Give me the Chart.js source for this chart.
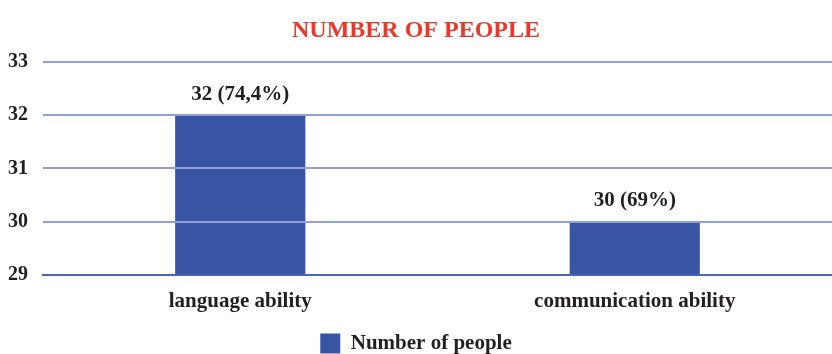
<!DOCTYPE html>
<html>
<head>
<meta charset="utf-8">
<script src="https://cdn.jsdelivr.net/npm/chart.js@4"></script>
<style>
    html, body { margin: 0; padding: 0; background: #fff; height: 354px; overflow: hidden; }
    #wrap { width: 832px; height: 364px; }
</style>
</head>
<body>
<div id="wrap"><canvas id="myChart"></canvas></div>
<script>
// Данные
const categories = ['language ability', 'communication ability'];
const peopleCounts = [32, 30];
const valueLabels = ['32 (74,4%)', '30 (69%)'];
const yTicks = [29, 30, 31, 32, 33];

const serif = '"Liberation Serif", "Times New Roman", serif';
const barColor = '#3a54a4';

// Подписи над столбцами
const barLabels = {
    id: 'barLabels',
    afterDatasetsDraw(chart) {
        const ctx = chart.ctx;
        const meta = chart.getDatasetMeta(0);
        ctx.save();
        ctx.font = 'bold 21px ' + serif;
        ctx.fillStyle = '#231f20';
        ctx.textAlign = 'center';
        ctx.textBaseline = 'middle';
        meta.data.forEach((bar, i) => {
            ctx.fillText(valueLabels[i], bar.x, bar.y - 21);
        });
        ctx.restore();
    }
};

const ctx = document.getElementById('myChart').getContext('2d');
const myChart = new Chart(ctx, {
    type: 'bar',
    data: {
        labels: categories,
        datasets: [{
            label: 'Number of people',
            data: peopleCounts,
            backgroundColor: barColor,
            borderWidth: 0,
            barPercentage: 0.33,
            categoryPercentage: 1
        }]
    },
    options: {
        responsive: true,
        maintainAspectRatio: false,
        animation: false,
        layout: { padding: { left: 0, right: 0, top: 0, bottom: 0 } },
        scales: {
            x: {
                grid: { display: false },
                border: { display: true, color: '#4a66b8', width: 2, z: 2 },
                ticks: {
                    color: '#231f20',
                    font: { family: serif, size: 21, weight: 'bold' },
                    padding: 6
                },
                afterFit(scale) { scale.height = 58; }
            },
            y: {
                min: 29,
                max: 33,
                afterBuildTicks(scale) {
                    scale.ticks = yTicks.map(v => ({ value: v }));
                },
                grid: {
                    color: '#8fa0d4',
                    lineWidth: 2,
                    drawTicks: false,
                    z: 1
                },
                border: { display: false },
                ticks: {
                    color: '#231f20',
                    font: { family: serif, size: 20, weight: 'bold' },
                    padding: 15
                },
                afterFit(scale) { scale.width = 43; }
            }
        },
        plugins: {
            title: {
                display: true,
                text: 'NUMBER OF PEOPLE',
                color: '#e8392a',
                font: { family: serif, size: 24, weight: 'bold' },
                padding: { top: 16, bottom: 17 }
            },
            legend: {
                display: true,
                position: 'bottom',
                labels: {
                    color: '#231f20',
                    font: { family: serif, size: 21, weight: 'bold' },
                    boxWidth: 20,
                    boxHeight: 20,
                    padding: 0
                }
            },
            tooltip: { enabled: false }
        }
    },
    plugins: [barLabels]
});
</script>
</body>
</html>
